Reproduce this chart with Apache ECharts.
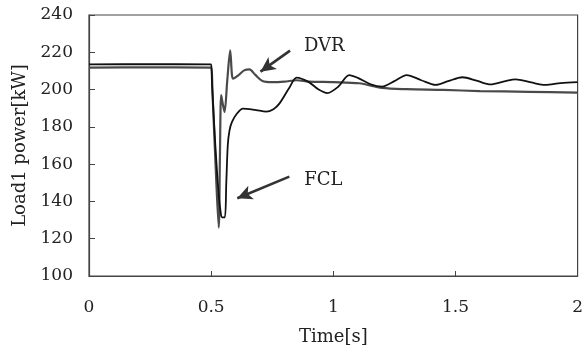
<!DOCTYPE html>
<html>
<head>
<meta charset="utf-8">
<script src="https://cdn.jsdelivr.net/npm/echarts@6/dist/echarts.min.js"></script>
<style>
  html, body { margin: 0; padding: 0; background: #fff; }
  #chart { width: 586px; height: 356px; }
</style>
</head>
<body>
<div id="chart"></div>
<script>
// Load1 power response during a fault: FCL vs. DVR
const timeTicks = [0, 0.5, 1, 1.5, 2];
const powerTicks = [100, 120, 140, 160, 180, 200, 220, 240];

// FCL case: [time s, power kW]
const fclSeries = [
  [0, 213.5], [0.25, 213.6], [0.5, 213.5], [0.503, 205], [0.515, 175], [0.53, 145],
  [0.54, 133], [0.545, 131.5], [0.556, 131.5], [0.562, 150], [0.568, 170],
  [0.575, 178], [0.585, 182.5], [0.605, 187], [0.63, 189.8], [0.684, 189],
  [0.725, 188.2], [0.755, 189.5], [0.78, 192.6], [0.82, 201], [0.85, 206.4],
  [0.9, 204], [0.94, 200], [0.976, 198.1], [1.02, 201.5], [1.065, 207.8],
  [1.1, 206.3], [1.15, 203], [1.2, 201.6], [1.25, 204.5], [1.30, 207.8],
  [1.36, 205], [1.419, 202.5], [1.47, 204.5], [1.528, 206.6], [1.59, 204.6],
  [1.644, 202.8], [1.70, 204.4], [1.746, 205.5], [1.81, 203.8], [1.868, 202.5],
  [1.93, 203.5], [2.0, 204]
];

// DVR case: [time s, power kW]
const dvrSeries = [
  [0, 211.8], [0.25, 211.9], [0.5, 211.8], [0.505, 200], [0.518, 160], [0.531, 126],
  [0.536, 165], [0.541, 197], [0.548, 192], [0.555, 188], [0.566, 205],
  [0.578, 221], [0.585, 208], [0.59, 205.8], [0.61, 207.5], [0.635, 210.3],
  [0.657, 210.8], [0.68, 208], [0.71, 204.6], [0.75, 204], [0.8, 204.3],
  [0.85, 205], [0.9, 204.3], [1.0, 204], [1.106, 203.4], [1.2, 200.9],
  [1.3, 200.2], [1.45, 199.8], [1.6, 199.2], [1.8, 198.8], [2.0, 198.4]
];

// Annotation arrows: [text anchor, arrow tip] in data units
const dvrArrow = [[0.823, 220.9], [0.702, 209.6]];
const fclArrow = [[0.820, 153.3], [0.607, 141.7]];
const dvrLabelAt = [0.963, 223.3];
const fclLabelAt = [0.959, 151.5];

const serif = 'DejaVu Serif';
const ink = '#222';

function arrowLine(pts) {
  return {
    silent: true,
    symbol: ['none', 'arrow'],
    symbolSize: [11, 15],
    label: { show: false },
    lineStyle: { type: 'solid', color: '#333', width: 2.6 },
    data: [[{ coord: pts[0] }, { coord: pts[1] }]]
  };
}

function textMark(name, at) {
  return {
    silent: true,
    symbol: 'circle',
    symbolSize: 0,
    label: {
      show: true, position: 'inside', formatter: name,
      fontFamily: serif, fontSize: 18, color: ink
    },
    data: [{ coord: at }]
  };
}

const chart = echarts.init(document.getElementById('chart'), null, { renderer: 'canvas' });
chart.setOption({
  animation: false,
  backgroundColor: '#fff',
  grid: {
    left: 89, right: 7, top: 15, bottom: 80,
    show: true, borderColor: '#444', borderWidth: 1.2, backgroundColor: 'transparent'
  },
  xAxis: {
    type: 'value',
    min: timeTicks[0], max: timeTicks[timeTicks.length - 1], interval: 0.5,
    name: 'Time[s]', nameLocation: 'middle', nameGap: 52,
    nameTextStyle: { fontFamily: serif, fontSize: 18, color: ink },
    axisLine: { show: true, lineStyle: { color: '#444', width: 1.2 } },
    axisTick: { show: true, inside: true, length: 5, lineStyle: { color: '#444' } },
    axisLabel: { margin: 23, fontFamily: serif, fontSize: 17, color: ink },
    splitLine: { show: false }
  },
  yAxis: {
    type: 'value',
    min: powerTicks[0], max: powerTicks[powerTicks.length - 1], interval: 20,
    name: 'Load1 power[kW]', nameLocation: 'middle', nameGap: 60,
    nameTextStyle: { fontFamily: serif, fontSize: 18, color: ink },
    axisLine: { show: true, lineStyle: { color: '#444', width: 1.2 } },
    axisTick: { show: true, inside: true, length: 6, lineStyle: { color: '#444' } },
    axisLabel: { margin: 16, fontFamily: serif, fontSize: 17, color: ink },
    splitLine: { show: false }
  },
  series: [
    {
      name: 'DVR', type: 'line', data: dvrSeries, showSymbol: false,
      smooth: 0.3, lineStyle: { color: '#4a4a4a', width: 2.2 },
      markLine: arrowLine(dvrArrow),
      markPoint: textMark('DVR', dvrLabelAt)
    },
    {
      name: 'FCL', type: 'line', data: fclSeries, showSymbol: false,
      smooth: 0.3, lineStyle: { color: '#111', width: 1.8 },
      markLine: arrowLine(fclArrow),
      markPoint: textMark('FCL', fclLabelAt)
    }
  ]
});
</script>
</body>
</html>
